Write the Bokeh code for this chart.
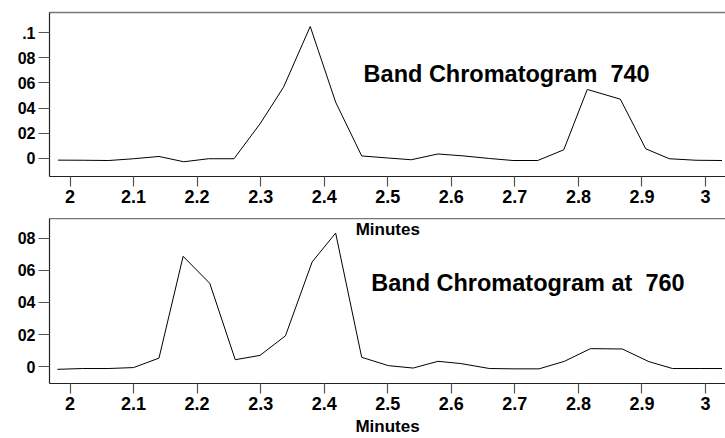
from bokeh.plotting import figure
from bokeh.layouts import column
from bokeh.models import Range1d, FixedTicker, LinearAxis, Label
from bokeh.embed import file_html
from bokeh.resources import INLINE

# ---- data ----
t_740 = [1.981, 2.021, 2.061, 2.100, 2.140, 2.179, 2.218, 2.258, 2.299, 2.336,
         2.378, 2.418, 2.459, 2.500, 2.537, 2.579, 2.620, 2.660, 2.697, 2.736,
         2.777, 2.814, 2.866, 2.906, 2.943, 2.985, 3.026]
v_740 = [-0.0013, -0.0014, -0.0016, -0.0002, 0.0016, -0.0026, -0.0002, -0.0002, 0.0275, 0.0566,
         0.1048, 0.0447, 0.0020, 0.0004, -0.0010, 0.0036, 0.0020, 0.0000, -0.0016, -0.0016,
         0.0069, 0.0548, 0.0471, 0.0077, -0.0002, -0.0014, -0.0016]

t_760 = [1.980, 2.020, 2.060, 2.100, 2.140, 2.178, 2.220, 2.260, 2.299, 2.339,
         2.381, 2.418, 2.459, 2.501, 2.540, 2.579, 2.615, 2.660, 2.700, 2.738,
         2.778, 2.819, 2.869, 2.911, 2.948, 2.990, 3.026]
v_760 = [-0.0017, -0.0012, -0.0012, -0.0006, 0.0053, 0.0688, 0.0519, 0.0043, 0.0070, 0.0192,
         0.0653, 0.0833, 0.0058, 0.0006, -0.0009, 0.0033, 0.0019, -0.0012, -0.0014, -0.0014,
         0.0033, 0.0112, 0.0110, 0.0031, -0.0012, -0.0012, -0.0012]

x_ticks = [2.0, 2.1, 2.2, 2.3, 2.4, 2.5, 2.6, 2.7, 2.8, 2.9, 3.0]
x_tick_labels = ["2", "2.1", "2.2", "2.3", "2.4", "2.5", "2.6", "2.7", "2.8", "2.9", "3"]
y_ticks_top = [0.0, 0.02, 0.04, 0.06, 0.08, 0.1]
y_labels_top = ["0", "02", "04", "06", "08", ".1"]
y_ticks_bot = [0.0, 0.02, 0.04, 0.06, 0.08]
y_labels_bot = ["0", "02", "04", "06", "08"]

NBSP = "\u00a0"
title_top = "Band Chromatogram " + NBSP + "740"
title_bot = "Band Chromatogram at " + NBSP + "760"
x_label = "Minutes"

FONT = "Liberation Sans"


def style(p, yticks, ylabels):
    p.outline_line_color = None
    p.xgrid.visible = False
    p.ygrid.visible = False
    p.background_fill_color = "white"
    p.border_fill_color = "white"
    xax = p.below[0]
    yax = p.left[0]
    for ax in (xax, yax):
        ax.axis_line_color = "#222222"
        ax.axis_line_width = 1.2
        ax.major_tick_line_color = "#555555"
        ax.major_tick_line_width = 1.2
        ax.major_tick_in = 0
        ax.minor_tick_line_color = None
        ax.major_label_text_font = FONT
        ax.major_label_text_font_style = "bold"
        ax.major_label_text_color = "black"
    xax.ticker = FixedTicker(ticks=x_ticks)
    xax.major_label_overrides = {k: v for k, v in zip(x_ticks, x_tick_labels)}
    xax.major_tick_out = 10
    xax.major_label_standoff = 3
    xax.major_label_text_font_size = "18px"
    yax.ticker = FixedTicker(ticks=yticks)
    yax.major_label_overrides = {k: v for k, v in zip(yticks, ylabels)}
    yax.major_tick_out = 11
    yax.major_label_standoff = 3
    yax.major_label_text_font_size = "16px"
    top = LinearAxis(ticker=FixedTicker(ticks=[]), axis_line_color="#777777",
                     axis_line_width=1.5, major_tick_out=0, major_tick_in=0,
                     major_label_standoff=0, minor_tick_line_color=None,
                     major_label_text_font_size="0px")
    p.add_layout(top, "above")
    return xax


# ---- top panel ----
p1 = figure(width=725, height=218, output_backend="svg", toolbar_location=None,
            x_range=Range1d(1.9677, 3.0315), y_range=Range1d(-0.0143, 0.1159),
            min_border_left=49, min_border_right=0, min_border_top=12, min_border_bottom=42)
style(p1, y_ticks_top, y_labels_top)
p1.line(t_740, v_740, line_color="black", line_width=1)
p1.add_layout(Label(x=2.462, y=0.0667, text=title_top, text_font=FONT,
                    text_font_style="bold", text_font_size="23.5px", text_color="black",
                    text_align="left", text_baseline="alphabetic"))

# ---- bottom panel ----
p2 = figure(width=725, height=220, output_backend="svg", toolbar_location=None,
            x_range=Range1d(1.9677, 3.0315), y_range=Range1d(-0.01054, 0.0924),
            min_border_left=49, min_border_right=0, min_border_top=0, min_border_bottom=54)
xax2 = style(p2, y_ticks_bot, y_labels_bot)
xax2.axis_label = x_label
xax2.axis_label_text_font = FONT
xax2.axis_label_text_font_style = "bold"
xax2.axis_label_text_font_size = "17px"
xax2.axis_label_text_color = "black"
xax2.axis_label_standoff = 4
p2.line(t_760, v_760, line_color="black", line_width=1)
p2.add_layout(Label(x=2.474, y=0.0521, text=title_bot, text_font=FONT,
                    text_font_style="bold", text_font_size="23.5px", text_color="black",
                    text_align="left", text_baseline="alphabetic"))
# x-axis title of the upper panel, which overlaps the lower panel's frame
p2.add_layout(Label(x=2.5, y=0.0858, text=x_label, text_font=FONT,
                    text_font_style="bold", text_font_size="17px", text_color="black",
                    text_align="center", text_baseline="alphabetic"))

layout = column(p1, p2, spacing=0)
open("out.html", "w").write(file_html(layout, INLINE))
